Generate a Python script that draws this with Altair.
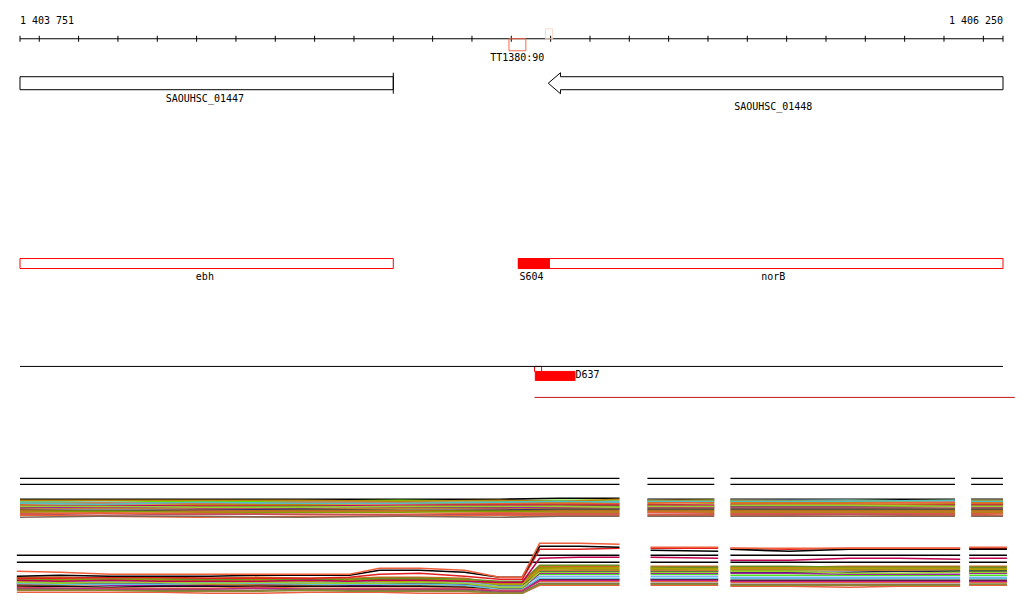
import altair as alt
import pandas as pd

# ---------------- coordinate frame (genome position / track row) ----------------
X_DOMAIN = [1403720.5, 1406280.5]
Y_DOMAIN = [7.5, 597.5]

# ---------------- ruler ----------------
ruler_start, ruler_end = 1403751, 1406250
ruler_ticks = [1403751] + list(range(1403800, 1406201, 100)) + [1406250]
ruler_labels = ["1 403 751", "1 406 250"]
ruler_y = 38

# ---------------- feature boxes ----------------
box_names = ["TT1380:90", "faint", "SAOUHSC_01447", "ebh", "norB", "S604", "D637", "D637_start"]
box_start = [1404994, 1405087, 1403751, 1403751, 1405018, 1405018, 1405061, 1405059]
box_end = [1405037, 1405105, 1404700, 1404700, 1406250, 1405097, 1405162, 1405077]
box_top = [38, 28, 76, 258, 258, 258, 371, 366]
box_bottom = [50, 38, 89, 268, 268, 268, 380, 371]
box_stroke = ["#f86848", "#fbd8c8", "#000000", "#ff0000", "#ff0000", "#ff0000", "#ff0000", "#ff0000"]
box_fill = ["transparent", "transparent", "transparent", "transparent", "transparent", "#ff0000", "#ff0000", "#ffffff"]

# reverse-strand gene (arrow)
arrow_gene = "SAOUHSC_01448"
arrow_start, arrow_end = 1405094, 1406250
arrow_head_bp = 31
arrow_shaft = (76, 89)
arrow_head = (72, 93)

# gene end bar
endbar_x = 1404700
endbar_y = (72, 93)

# ---------------- labels ----------------
label_text = ["1 403 751", "1 406 250", "TT1380:90", "SAOUHSC_01447", "SAOUHSC_01448",
              "ebh", "norB", "S604", "D637"]
label_x = [1403751, 1406250, 1405015, 1404221, 1405666, 1404221, 1405666, 1405021, 1405163]
label_y = [20, 20, 57, 98, 106, 276, 276, 276, 375]
label_align = ["left", "right", "center", "center", "center", "center", "center", "left", "left"]

# ---------------- plain track lines ----------------
hline_x = [1403751, 1405059]
hline_x2 = [1406250, 1406280]
hline_y = [366, 397]
hline_color = ["#000000", "#c01818"]

# ---------------- expression blocks (black reference lines) ----------------
up_segments = [(1403751, 1405275), (1405346, 1405516), (1405557, 1406128), (1406169, 1406250)]
lo_segments = [(1403743, 1405275), (1405354, 1405526), (1405557, 1406141), (1406164, 1406260)]
up_ref_y = [478, 484]
lo_ref_y = [555, 562]

# ---------------- expression profiles ----------------
up_x = [1403751, 1403954, 1404208, 1404462, 1404716, 1404970, 1405122, 1405275,
        1405346, 1405516,
        1405557, 1405859, 1406128,
        1406169, 1406250]
up_seg_len = [8, 2, 3, 2]

up_colors = ["#000000", "#66e000", "#80b0f0", "#a0a000", "#f0603c", "#d2691e", "#c00060",
             "#6b8e23", "#a020a0", "#c08030", "#303070", "#8a7a00", "#f06040", "#80a000",
             "#e86038", "#c05060", "#e8643c", "#806858",
             "#b8860b", "#50c0c0", "#9acd32"]
up_values = [
    [499, 499, 499, 499, 499, 499, 498, 498, 499, 499, 499, 499, 499, 499, 499],
    [501, 502, 501, 501, 500, 501, 500, 500, 501, 500, 501, 500, 501, 501, 501],
    [502, 502, 503, 502, 502, 502, 502, 501, 500, 501, 500, 500, 501, 500, 500],
    [503, 503, 504, 504, 503, 503, 502, 503, 502, 503, 502, 502, 503, 502, 502],
    [504, 503, 503, 502, 502, 503, 503, 503, 503, 502, 503, 503, 502, 503, 503],
    [505, 505, 505, 505, 505, 504, 504, 504, 504, 505, 504, 504, 504, 504, 504],
    [506, 505, 506, 506, 505, 505, 505, 505, 505, 505, 505, 506, 505, 505, 505],
    [507, 507, 507, 506, 507, 507, 506, 506, 506, 507, 506, 506, 506, 506, 506],
    [508, 507, 508, 508, 508, 508, 507, 508, 507, 507, 507, 507, 508, 507, 507],
    [509, 508, 509, 509, 508, 509, 508, 508, 508, 508, 508, 508, 508, 508, 508],
    [510, 510, 510, 509, 510, 510, 509, 509, 509, 509, 509, 509, 509, 509, 509],
    [510, 511, 511, 510, 510, 511, 510, 510, 510, 510, 510, 510, 510, 510, 510],
    [511, 512, 511, 511, 511, 512, 511, 511, 511, 511, 511, 511, 511, 511, 511],
    [512, 511, 512, 512, 512, 511, 512, 512, 512, 512, 512, 512, 512, 512, 512],
    [513, 513, 513, 514, 514, 513, 513, 513, 512, 513, 513, 513, 513, 513, 513],
    [514, 515, 514, 514, 515, 514, 514, 514, 514, 514, 514, 514, 514, 514, 515],
    [515, 516, 517, 516, 516, 515, 515, 515, 515, 515, 515, 516, 515, 515, 515],
    [517, 516, 516, 517, 516, 517, 516, 516, 516, 516, 516, 516, 516, 516, 516],
    [500, 500, 500, 500, 501, 500, 501, 499, 500, 500, 500, 501, 500, 500, 500],
    [503, 504, 502, 503, 503, 502, 501, 502, 501, 501, 501, 501, 500, 501, 501],
    [506, 506, 507, 507, 506, 506, 506, 507, 506, 506, 505, 505, 506, 506, 506],
]

lo_x = [1403743, 1403853, 1403980, 1404107, 1404234, 1404361, 1404487, 1404589,
        1404665, 1404767, 1404881, 1404970, 1405028, 1405072, 1405173, 1405275,
        1405354, 1405526,
        1405557, 1405707, 1405859, 1405986, 1406141,
        1406164, 1406260]
lo_seg_len = [16, 2, 5, 2]

lo_colors = ["#9c9c00", "#7a9a10", "#d2691e", "#202050", "#50e020", "#80b0f0", "#a020a0",
             "#c08030", "#111111", "#60c0e0", "#e8643c", "#c02080", "#806858", "#e86040",
             "#8a8a30", "#6b8e23", "#b0a000", "#9acd32",
             "#c00050", "#e02020", "#000000", "#f0603c"]
lo_values = [
    [579, 579, 579, 580, 580, 580, 579, 579, 579, 579, 580, 584, 584, 567, 567, 567, 568, 568, 568, 568, 567, 567, 568, 568, 568],
    [580, 580, 580, 580, 579, 580, 580, 580, 580, 580, 581, 585, 585, 568, 569, 569, 569, 570, 570, 570, 569, 569, 570, 570, 570],
    [577, 577, 578, 578, 578, 577, 578, 578, 577, 577, 578, 583, 583, 566, 566, 566, 566, 566, 567, 567, 566, 566, 566, 566, 566],
    [583, 583, 583, 583, 582, 583, 583, 583, 583, 583, 584, 586, 586, 571, 571, 571, 571, 571, 572, 572, 572, 571, 571, 571, 571],
    [582, 582, 581, 582, 582, 581, 582, 582, 582, 582, 583, 587, 587, 574, 574, 574, 574, 574, 575, 575, 575, 575, 575, 575, 575],
    [581, 581, 582, 581, 582, 582, 582, 581, 582, 582, 582, 586, 586, 576, 576, 576, 576, 576, 577, 577, 577, 577, 577, 577, 577],
    [584, 584, 585, 585, 585, 584, 584, 585, 585, 584, 585, 588, 588, 573, 573, 573, 573, 573, 573, 573, 574, 574, 574, 573, 573],
    [585, 585, 584, 584, 584, 585, 585, 584, 584, 585, 586, 588, 588, 570, 570, 570, 570, 570, 569, 569, 570, 570, 569, 569, 569],
    [586, 586, 587, 586, 586, 586, 586, 586, 586, 586, 587, 589, 589, 579, 579, 579, 579, 579, 580, 580, 580, 580, 580, 580, 580],
    [583, 584, 584, 584, 583, 583, 584, 584, 584, 584, 585, 589, 589, 578, 578, 578, 578, 578, 578, 578, 578, 578, 578, 578, 578],
    [587, 588, 588, 588, 588, 587, 588, 588, 588, 588, 588, 590, 590, 581, 581, 581, 581, 581, 582, 582, 582, 582, 582, 582, 582],
    [588, 588, 589, 589, 589, 588, 589, 589, 589, 589, 589, 591, 591, 580, 580, 580, 580, 580, 581, 581, 581, 581, 581, 581, 581],
    [589, 589, 590, 590, 590, 590, 589, 590, 590, 590, 590, 592, 592, 583, 583, 583, 583, 583, 584, 584, 584, 584, 584, 584, 584],
    [592, 592, 592, 592, 593, 593, 592, 592, 592, 593, 593, 593, 593, 585, 585, 585, 585, 585, 586, 586, 587, 586, 586, 585, 585],
    [590, 590, 590, 591, 591, 591, 590, 591, 591, 591, 591, 593, 593, 584, 584, 584, 584, 584, 585, 585, 585, 585, 585, 584, 584],
    [578, 579, 579, 579, 579, 579, 579, 579, 578, 578, 579, 581, 581, 565, 565, 565, 567, 567, 566, 566, 567, 567, 567, 567, 567],
    [581, 580, 580, 580, 581, 580, 581, 580, 581, 581, 580, 584, 584, 569, 568, 568, 568, 569, 568, 568, 568, 568, 568, 569, 569],
    [582, 583, 582, 582, 583, 582, 583, 583, 583, 582, 583, 587, 587, 572, 572, 572, 572, 572, 571, 571, 573, 573, 572, 572, 572],
    [580, 581, 580, 581, 581, 581, 580, 581, 580, 580, 581, 582, 582, 558, 557, 557, 557, 558, 560, 560, 558, 558, 559, 558, 558],
    [578, 578, 577, 577, 578, 578, 578, 577, 574, 573, 576, 579, 579, 549, 549, 548, 548, 548, 548, 549, 548, 548, 548, 548, 548],
    [576, 575, 576, 576, 576, 575, 575, 575, 570, 570, 572, 577, 577, 546, 546, 547, 550, 551, 549, 551, 549, 549, 549, 549, 549],
    [571, 572, 574, 574, 574, 574, 574, 574, 568, 568, 570, 577, 577, 543, 543, 544, 547, 547, 548, 548, 548, 548, 548, 547, 547],
]

# ---------------- build tables ----------------
def profile_table(prefix, xs, seg_len, colors, values):
    rows = []
    for si, (col, vals) in enumerate(zip(colors, values)):
        i = 0
        for seg, n in enumerate(seg_len):
            for k in range(n):
                rows.append({"series": f"{prefix}{si:02d}", "grp": f"{prefix}{si:02d}_{seg}",
                             "x": xs[i], "y": vals[i]})
                i += 1
    return pd.DataFrame(rows)

up_df = profile_table("u", up_x, up_seg_len, up_colors, up_values)
lo_df = profile_table("l", lo_x, lo_seg_len, lo_colors, lo_values)
up_names = [f"u{i:02d}" for i in range(len(up_colors))]
lo_names = [f"l{i:02d}" for i in range(len(lo_colors))]

ref_rows = []
for yv in up_ref_y:
    for a, b in up_segments:
        ref_rows.append({"x": a, "x2": b, "y": yv})
for yv in lo_ref_y:
    for a, b in lo_segments:
        ref_rows.append({"x": a, "x2": b, "y": yv})
ref_df = pd.DataFrame(ref_rows)

box_df = pd.DataFrame({"name": box_names, "x": box_start, "x2": box_end, "y": box_top, "y2": box_bottom,
                       "stroke": box_stroke, "fill": box_fill})

arrow_pts = [
    (arrow_end, arrow_shaft[0]), (arrow_start + arrow_head_bp, arrow_shaft[0]),
    (arrow_start + arrow_head_bp, arrow_head[0]), (arrow_start, (arrow_head[0] + arrow_head[1]) / 2),
    (arrow_start + arrow_head_bp, arrow_head[1]), (arrow_start + arrow_head_bp, arrow_shaft[1]),
    (arrow_end, arrow_shaft[1]), (arrow_end, arrow_shaft[0]),
]
arrow_df = pd.DataFrame({"x": [p[0] for p in arrow_pts], "y": [p[1] for p in arrow_pts],
                         "o": list(range(len(arrow_pts)))})

ruler_df = pd.DataFrame({"x": [ruler_start], "x2": [ruler_end], "y": [ruler_y]})
tick_df = pd.DataFrame({"x": ruler_ticks, "y": [ruler_y - 3] * len(ruler_ticks), "y2": [ruler_y + 3] * len(ruler_ticks)})
endbar_df = pd.DataFrame({"x": [endbar_x], "y": [endbar_y[0]], "y2": [endbar_y[1]]})
hline_df = pd.DataFrame({"x": hline_x, "x2": hline_x2, "y": hline_y, "c": hline_color})
label_df = pd.DataFrame({"text": label_text, "x": label_x, "y": label_y, "align": label_align})

xs = alt.Scale(domain=X_DOMAIN, nice=False, zero=False)
ys = alt.Scale(domain=Y_DOMAIN, nice=False, zero=False, reverse=True)
X = lambda f="x": alt.X(f"{f}:Q", scale=xs, axis=None)
Y = lambda f="y": alt.Y(f"{f}:Q", scale=ys, axis=None)

ruler = alt.Chart(ruler_df).mark_rule(color="black", strokeWidth=1).encode(x=X(), x2="x2:Q", y=Y())
ticks = alt.Chart(tick_df).mark_rule(color="black", strokeWidth=1).encode(x=X(), y=Y(), y2="y2:Q")

boxes = alt.Chart(box_df).mark_rect(strokeWidth=1).encode(
    x=X(), x2="x2:Q", y=Y(), y2="y2:Q",
    stroke=alt.Stroke("stroke:N", scale=None),
    fill=alt.Fill("fill:N", scale=None),
)

arrow = alt.Chart(arrow_df).mark_line(color="black", strokeWidth=1).encode(x=X(), y=Y(), order="o:Q")
endbar = alt.Chart(endbar_df).mark_rule(color="black", strokeWidth=1).encode(x=X(), y=Y(), y2="y2:Q")

hlines = alt.Chart(hline_df).mark_rule(strokeWidth=1).encode(
    x=X(), x2="x2:Q", y=Y(), color=alt.Color("c:N", scale=None))

refs = alt.Chart(ref_df).mark_rule(color="black", strokeWidth=1.3).encode(x=X(), x2="x2:Q", y=Y())

up_lines = alt.Chart(up_df).mark_line(strokeWidth=1.6, interpolate="linear").encode(
    x=X(), y=Y(),
    color=alt.Color("series:N", scale=alt.Scale(domain=up_names, range=up_colors), legend=None),
    detail="grp:N",
)
lo_lines = alt.Chart(lo_df).mark_line(strokeWidth=1.6, interpolate="linear").encode(
    x=X(), y=Y(),
    color=alt.Color("series:N", scale=alt.Scale(domain=lo_names, range=lo_colors), legend=None),
    detail="grp:N",
)

def text_layer(align):
    d = label_df[label_df["align"] == align]
    return alt.Chart(d).mark_text(font="DejaVu Sans Mono", fontSize=10, color="black",
                                  align=align, baseline="middle").encode(x=X(), y=Y(), text="text:N")

chart = alt.layer(
    ruler, ticks, boxes, arrow, endbar, hlines, refs, up_lines, lo_lines,
    text_layer("left"), text_layer("center"), text_layer("right"),
).resolve_scale(color="independent").properties(
    width=1008, height=590, padding=0, background="white"
).configure_view(stroke=None)

chart.save("out.html", embed_options={"renderer": "svg", "actions": False})
